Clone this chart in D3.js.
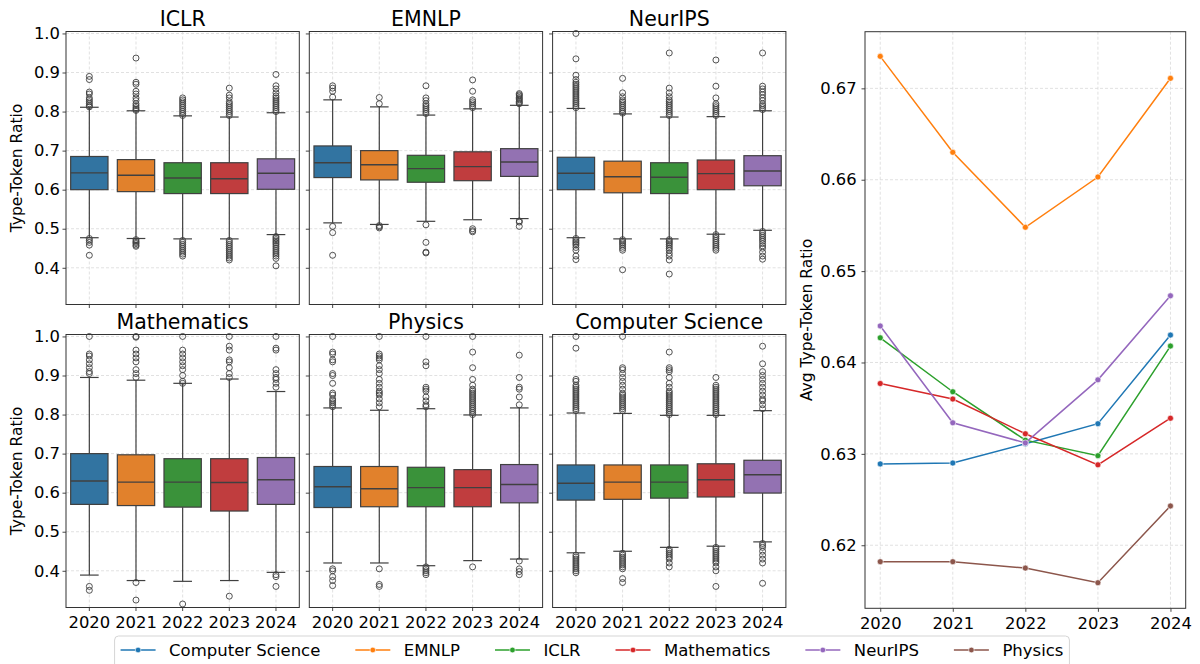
<!DOCTYPE html>
<html>
<head>
<meta charset="utf-8">
<script src="https://cdn.jsdelivr.net/npm/d3@7"></script>
<style>
body { margin: 0; background: #fff; }
svg, svg text { font-family: "DejaVu Sans", sans-serif; }
</style>
</head>
<body>
<svg id="chart" width="1200" height="664"></svg>
<script>
var years = ["2020", "2021", "2022", "2023", "2024"];
var boxColors = ["#3274a1", "#e1812c", "#3a923a", "#c03d3e", "#9372b2"];
var boxTicks = [0.4, 0.5, 0.6, 0.7, 0.8, 0.9, 1.0];

// one row per year: [lower whisker, q1, median, q3, upper whisker]
var iclrBox = [
    [0.477, 0.600, 0.643, 0.685, 0.811],
    [0.475, 0.595, 0.637, 0.677, 0.802],
    [0.474, 0.590, 0.630, 0.669, 0.789],
    [0.474, 0.590, 0.628, 0.669, 0.786],
    [0.485, 0.601, 0.642, 0.679, 0.797]
];
var iclrOut = [
    [0.812, 0.815, 0.82, 0.825, 0.83, 0.835, 0.845, 0.85, 0.882, 0.89, 0.475, 0.47, 0.465, 0.458, 0.432],
    [0.803, 0.806, 0.81, 0.815, 0.82, 0.828, 0.835, 0.845, 0.852, 0.87, 0.875, 0.937, 0.472, 0.468, 0.465, 0.462, 0.458, 0.455],
    [0.79, 0.795, 0.80, 0.805, 0.81, 0.815, 0.82, 0.825, 0.83, 0.835, 0.47, 0.465, 0.46, 0.455, 0.45, 0.445, 0.44, 0.435, 0.43],
    [0.79, 0.795, 0.80, 0.805, 0.81, 0.815, 0.82, 0.825, 0.835, 0.842, 0.86, 0.47, 0.465, 0.46, 0.455, 0.45, 0.445, 0.44, 0.435, 0.43, 0.425, 0.42],
    [0.80, 0.805, 0.81, 0.815, 0.82, 0.825, 0.83, 0.835, 0.84, 0.848, 0.858, 0.866, 0.895, 0.48, 0.476, 0.472, 0.468, 0.464, 0.46, 0.455, 0.45, 0.445, 0.44, 0.435, 0.43, 0.424, 0.405]
];

var emnlpBox = [
    [0.515, 0.631, 0.669, 0.712, 0.830],
    [0.511, 0.625, 0.664, 0.700, 0.812],
    [0.519, 0.619, 0.654, 0.688, 0.791],
    [0.523, 0.623, 0.659, 0.697, 0.807],
    [0.526, 0.634, 0.671, 0.705, 0.816]
];
var emnlpOut = [
    [0.837, 0.852, 0.860, 0.866, 0.506, 0.49, 0.432],
    [0.82, 0.836, 0.508, 0.505, 0.502],
    [0.795, 0.80, 0.805, 0.81, 0.815, 0.82, 0.828, 0.835, 0.866, 0.51, 0.465, 0.44, 0.438],
    [0.81, 0.815, 0.82, 0.825, 0.83, 0.852, 0.881, 0.50, 0.495, 0.492],
    [0.82, 0.823, 0.826, 0.83, 0.833, 0.836, 0.84, 0.843, 0.846, 0.52, 0.517, 0.506]
];

var neuripsBox = [
    [0.477, 0.600, 0.642, 0.683, 0.808],
    [0.474, 0.592, 0.633, 0.673, 0.794],
    [0.474, 0.590, 0.632, 0.669, 0.786],
    [0.486, 0.600, 0.641, 0.676, 0.787],
    [0.496, 0.610, 0.648, 0.687, 0.802]
];
var neuripsOut = [
    [0.81, 0.815, 0.82, 0.825, 0.83, 0.835, 0.84, 0.845, 0.85, 0.855, 0.86, 0.865, 0.87, 0.875, 0.882, 0.893, 0.935, 1.0, 0.475, 0.47, 0.466, 0.462, 0.458, 0.452, 0.445, 0.43, 0.421],
    [0.796, 0.80, 0.805, 0.81, 0.815, 0.82, 0.825, 0.83, 0.838, 0.848, 0.885, 0.472, 0.468, 0.464, 0.46, 0.455, 0.45, 0.445, 0.395],
    [0.79, 0.795, 0.80, 0.805, 0.81, 0.815, 0.82, 0.825, 0.83, 0.838, 0.848, 0.86, 0.95, 0.472, 0.468, 0.464, 0.46, 0.455, 0.45, 0.445, 0.437, 0.43, 0.42, 0.384],
    [0.79, 0.795, 0.80, 0.805, 0.81, 0.815, 0.82, 0.835, 0.865, 0.932, 0.485, 0.48, 0.475, 0.47, 0.465, 0.46, 0.455, 0.45, 0.445],
    [0.805, 0.81, 0.815, 0.82, 0.828, 0.835, 0.843, 0.85, 0.858, 0.865, 0.95, 0.493, 0.488, 0.483, 0.478, 0.473, 0.468, 0.462, 0.456, 0.45, 0.44, 0.43, 0.422]
];

var mathBox = [
    [0.389, 0.570, 0.630, 0.700, 0.895],
    [0.375, 0.567, 0.627, 0.697, 0.888],
    [0.373, 0.563, 0.627, 0.687, 0.880],
    [0.375, 0.553, 0.626, 0.687, 0.891],
    [0.396, 0.570, 0.633, 0.690, 0.859]
];
var mathOut = [
    [1.0, 0.955, 0.95, 0.94, 0.93, 0.92, 0.91, 0.905, 0.36, 0.35],
    [1.0, 0.998, 0.965, 0.955, 0.945, 0.935, 0.915, 0.905, 0.895, 0.37, 0.325],
    [1.0, 0.965, 0.955, 0.945, 0.935, 0.925, 0.915, 0.90, 0.885, 0.88, 0.315],
    [1.0, 0.975, 0.965, 0.94, 0.935, 0.92, 0.905, 0.895, 0.335],
    [1.0, 0.97, 0.965, 0.915, 0.905, 0.895, 0.89, 0.88, 0.87, 0.39, 0.385, 0.36]
];

var physicsBox = [
    [0.420, 0.562, 0.615, 0.667, 0.817],
    [0.420, 0.564, 0.610, 0.667, 0.811],
    [0.413, 0.564, 0.613, 0.665, 0.815],
    [0.426, 0.564, 0.613, 0.659, 0.799],
    [0.430, 0.574, 0.621, 0.672, 0.817]
];
var physicsOut = [
    [1.0, 0.96, 0.955, 0.94, 0.935, 0.905, 0.90, 0.88, 0.855, 0.85, 0.84, 0.835, 0.83, 0.825, 0.82, 0.405, 0.40, 0.385, 0.375, 0.362],
    [1.0, 0.955, 0.95, 0.945, 0.94, 0.925, 0.915, 0.905, 0.89, 0.88, 0.87, 0.86, 0.855, 0.85, 0.84, 0.83, 0.82, 0.405, 0.365, 0.36],
    [1.0, 0.935, 0.925, 0.87, 0.865, 0.86, 0.845, 0.835, 0.825, 0.82, 0.41, 0.405, 0.40, 0.395, 0.39],
    [1.0, 0.96, 0.92, 0.89, 0.875, 0.865, 0.86, 0.855, 0.85, 0.845, 0.84, 0.835, 0.83, 0.825, 0.82, 0.815, 0.81, 0.805, 0.80, 0.41],
    [0.952, 0.895, 0.87, 0.865, 0.845, 0.825, 0.425, 0.405, 0.398, 0.39]
];

var csBox = [
    [0.446, 0.581, 0.624, 0.671, 0.804],
    [0.450, 0.583, 0.627, 0.671, 0.803],
    [0.460, 0.586, 0.627, 0.671, 0.798],
    [0.463, 0.589, 0.633, 0.674, 0.798],
    [0.474, 0.599, 0.646, 0.683, 0.810]
];
var csOut = [
    [1.0, 0.97, 0.89, 0.885, 0.875, 0.87, 0.865, 0.86, 0.855, 0.85, 0.845, 0.84, 0.835, 0.83, 0.825, 0.82, 0.815, 0.81, 0.44, 0.435, 0.43, 0.425, 0.42, 0.415, 0.41, 0.405, 0.40, 0.395],
    [1.0, 0.92, 0.915, 0.905, 0.895, 0.885, 0.875, 0.865, 0.855, 0.85, 0.845, 0.84, 0.835, 0.83, 0.825, 0.82, 0.815, 0.81, 0.445, 0.44, 0.435, 0.43, 0.425, 0.42, 0.415, 0.41, 0.405, 0.38, 0.37],
    [0.96, 0.92, 0.915, 0.91, 0.895, 0.88, 0.87, 0.86, 0.855, 0.85, 0.845, 0.84, 0.835, 0.83, 0.825, 0.82, 0.815, 0.81, 0.805, 0.80, 0.455, 0.45, 0.445, 0.44, 0.435, 0.43, 0.42, 0.41],
    [0.895, 0.875, 0.87, 0.865, 0.86, 0.855, 0.85, 0.845, 0.84, 0.835, 0.83, 0.825, 0.82, 0.815, 0.81, 0.805, 0.80, 0.46, 0.455, 0.45, 0.445, 0.44, 0.435, 0.43, 0.425, 0.42, 0.41, 0.40, 0.36],
    [0.975, 0.93, 0.91, 0.90, 0.89, 0.88, 0.87, 0.86, 0.85, 0.84, 0.835, 0.825, 0.815, 0.47, 0.465, 0.46, 0.45, 0.44, 0.43, 0.42, 0.368]
];

// right panel: average type-token ratio per year
var lineNames = ["Computer Science", "EMNLP", "ICLR", "Mathematics", "NeurIPS", "Physics"];
var lineColors = ["#1f77b4", "#ff7f0e", "#2ca02c", "#d62728", "#9467bd", "#8c564b"];
var csAvg = [0.6289, 0.6290, 0.6311, 0.6333, 0.6430];
var emnlpAvg = [0.6735, 0.6630, 0.6548, 0.6603, 0.6711];
var iclrAvg = [0.6427, 0.6368, 0.6315, 0.6298, 0.6418];
var mathAvg = [0.6377, 0.6360, 0.6322, 0.6288, 0.6339];
var neuripsAvg = [0.6440, 0.6334, 0.6312, 0.6381, 0.6473];
var physicsAvg = [0.6182, 0.6182, 0.6175, 0.6159, 0.6243];
var lineTicks = [0.62, 0.63, 0.64, 0.65, 0.66, 0.67];

var svg = d3.select("#chart");
var edge = "#404040",
    spine = "#333",
    gridColor = "#d9d9d9";

function styleAxis(g, size) {
    g.attr("font-family", null).attr("font-size", null);
    g.select(".domain").remove();
    g.selectAll(".tick line").attr("stroke", spine).attr("stroke-width", 0.9);
    g.selectAll(".tick text").attr("fill", "#000")
        .style("font-family", "'DejaVu Sans', sans-serif")
        .style("font-size", size + "px");
}

function drawBoxPanel(x0, y0, w, h, title, stats, outliers, showY, showX) {
    /* One seaborn-like box plot panel, years on x. */
    var g = svg.append("g").attr("transform", "translate(" + x0 + "," + y0 + ")");
    var x = d3.scaleBand().domain(years).range([0, w]);
    var y = d3.scaleLinear().domain([0.306, 1.005]).range([h, 0]);
    var bw = x.bandwidth() * 0.8;

    // grid
    g.selectAll(".gy").data(boxTicks).enter().append("line")
        .attr("x1", 0).attr("x2", w)
        .attr("y1", function(d) { return y(d); }).attr("y2", function(d) { return y(d); })
        .attr("stroke", gridColor).attr("stroke-dasharray", "3,2").attr("stroke-width", 0.8);
    g.selectAll(".gx").data(years).enter().append("line")
        .attr("y1", 0).attr("y2", h)
        .attr("x1", function(d) { return x(d) + x.bandwidth() / 2; })
        .attr("x2", function(d) { return x(d) + x.bandwidth() / 2; })
        .attr("stroke", gridColor).attr("stroke-dasharray", "3,2").attr("stroke-width", 0.8);

    var boxes = g.selectAll(".box").data(stats).enter().append("g")
        .attr("transform", function(d, i) { return "translate(" + (x(years[i]) + x.bandwidth() / 2) + ",0)"; });

    boxes.append("line").attr("x1", 0).attr("x2", 0)
        .attr("y1", function(d) { return y(d[3]); }).attr("y2", function(d) { return y(d[4]); })
        .attr("stroke", edge).attr("stroke-width", 1.2);
    boxes.append("line").attr("x1", 0).attr("x2", 0)
        .attr("y1", function(d) { return y(d[1]); }).attr("y2", function(d) { return y(d[0]); })
        .attr("stroke", edge).attr("stroke-width", 1.2);
    boxes.append("line").attr("x1", -bw / 4).attr("x2", bw / 4)
        .attr("y1", function(d) { return y(d[4]); }).attr("y2", function(d) { return y(d[4]); })
        .attr("stroke", edge).attr("stroke-width", 1.2);
    boxes.append("line").attr("x1", -bw / 4).attr("x2", bw / 4)
        .attr("y1", function(d) { return y(d[0]); }).attr("y2", function(d) { return y(d[0]); })
        .attr("stroke", edge).attr("stroke-width", 1.2);
    boxes.append("rect")
        .attr("x", -bw / 2).attr("width", bw)
        .attr("y", function(d) { return y(d[3]); })
        .attr("height", function(d) { return y(d[1]) - y(d[3]); })
        .attr("fill", function(d, i) { return boxColors[i]; })
        .attr("stroke", edge).attr("stroke-width", 1.2);
    boxes.append("line").attr("x1", -bw / 2).attr("x2", bw / 2)
        .attr("y1", function(d) { return y(d[2]); }).attr("y2", function(d) { return y(d[2]); })
        .attr("stroke", edge).attr("stroke-width", 1.4);

    boxes.each(function(d, i) {
        d3.select(this).selectAll("circle").data(outliers[i]).enter().append("circle")
            .attr("cx", 0).attr("cy", function(v) { return y(v); }).attr("r", 3)
            .attr("fill", "none").attr("stroke", edge).attr("stroke-width", 0.9);
    });

    g.append("rect").attr("width", w).attr("height", h)
        .attr("fill", "none").attr("stroke", spine).attr("stroke-width", 1);

    var ay = g.append("g").call(d3.axisLeft(y).tickValues(boxTicks).tickSize(3.5).tickPadding(2.5)
        .tickFormat(showY ? d3.format(".1f") : function() { return ""; }));
    styleAxis(ay, 16.4);
    var ax = g.append("g").attr("transform", "translate(0," + h + ")")
        .call(d3.axisBottom(x).tickSize(3.5).tickPadding(5.4)
        .tickFormat(showX ? function(d) { return d; } : function() { return ""; }));
    styleAxis(ax, 16.4);

    g.append("text").attr("x", w / 2).attr("y", -6).attr("text-anchor", "middle")
        .style("font-size", "20.5px").text(title);
    if (showY) {
        g.append("text").attr("transform", "translate(-44," + (h / 2) + ") rotate(-90)")
            .attr("text-anchor", "middle").style("font-size", "15.5px").text("Type-Token Ratio");
    }
}

var cols = [66, 309.3, 552.6], panelW = 233.3;
drawBoxPanel(cols[0], 31.5, panelW, 273, "ICLR", iclrBox, iclrOut, true, false);
drawBoxPanel(cols[1], 31.5, panelW, 273, "EMNLP", emnlpBox, emnlpOut, false, false);
drawBoxPanel(cols[2], 31.5, panelW, 273, "NeurIPS", neuripsBox, neuripsOut, false, false);
drawBoxPanel(cols[0], 334.5, panelW, 273, "Mathematics", mathBox, mathOut, true, true);
drawBoxPanel(cols[1], 334.5, panelW, 273, "Physics", physicsBox, physicsOut, false, true);
drawBoxPanel(cols[2], 334.5, panelW, 273, "Computer Science", csBox, csOut, false, true);

function drawLinePanel(x0, y0, w, h) {
    /* Average ratio per year, one line per venue. */
    var series = [csAvg, emnlpAvg, iclrAvg, mathAvg, neuripsAvg, physicsAvg];
    var g = svg.append("g").attr("transform", "translate(" + x0 + "," + y0 + ")");
    var x = d3.scaleLinear().domain([2019.79, 2024.21]).range([0, w]);
    var y = d3.scaleLinear().domain([0.6131, 0.6762]).range([h, 0]);
    var yearNums = years.map(Number);

    g.selectAll(".gy").data(lineTicks).enter().append("line")
        .attr("x1", 0).attr("x2", w)
        .attr("y1", function(d) { return y(d); }).attr("y2", function(d) { return y(d); })
        .attr("stroke", gridColor).attr("stroke-dasharray", "3,2").attr("stroke-width", 0.8);
    g.selectAll(".gx").data(yearNums).enter().append("line")
        .attr("y1", 0).attr("y2", h)
        .attr("x1", function(d) { return x(d); }).attr("x2", function(d) { return x(d); })
        .attr("stroke", gridColor).attr("stroke-dasharray", "3,2").attr("stroke-width", 0.8);

    var line = d3.line()
        .x(function(d, i) { return x(yearNums[i]); })
        .y(function(d) { return y(d); });

    series.forEach(function(vals, k) {
        g.append("path").datum(vals).attr("d", line)
            .attr("fill", "none").attr("stroke", lineColors[k]).attr("stroke-width", 1.5);
        g.selectAll(".pt" + k).data(vals).enter().append("circle")
            .attr("cx", function(d, i) { return x(yearNums[i]); })
            .attr("cy", function(d) { return y(d); })
            .attr("r", 3).attr("fill", lineColors[k])
            .attr("stroke", "#fff").attr("stroke-width", 0.6);
    });

    g.append("rect").attr("width", w).attr("height", h)
        .attr("fill", "none").attr("stroke", spine).attr("stroke-width", 1);

    var ay = g.append("g").call(d3.axisLeft(y).tickValues(lineTicks).tickSize(3.5).tickPadding(4.8)
        .tickFormat(d3.format(".2f")));
    styleAxis(ay, 16.4);
    var ax = g.append("g").attr("transform", "translate(0," + h + ")")
        .call(d3.axisBottom(x).tickValues(yearNums).tickSize(3.5).tickPadding(5.4)
        .tickFormat(d3.format("d")));
    styleAxis(ax, 16.4);

    g.append("text").attr("transform", "translate(-53," + (h / 2) + ") rotate(-90)")
        .attr("text-anchor", "middle").style("font-size", "15.5px").text("Avg Type-Token Ratio");
}

drawLinePanel(865, 31.7, 320.7, 576.6);

function drawLegend(cx, top) {
    /* Single-row legend under the panels. */
    var fs = 16.5, handle = 35, gap = 13.5, colGap = 35, pad = 6;
    var g = svg.append("g");
    var frame = g.append("rect");
    var xPos = pad, items = [];
    lineNames.forEach(function(name, k) {
        var it = g.append("g");
        it.append("line").attr("x1", 0).attr("x2", handle).attr("y1", 14).attr("y2", 14)
            .attr("stroke", lineColors[k]).attr("stroke-width", 1.5);
        it.append("circle").attr("cx", handle / 2).attr("cy", 14).attr("r", 2.8)
            .attr("fill", lineColors[k]).attr("stroke", "#fff").attr("stroke-width", 0.6);
        var t = it.append("text").attr("x", handle + gap).attr("y", 19.5)
            .style("font-size", fs + "px").text(name);
        items.push({ g: it, x: xPos });
        xPos += handle + gap + t.node().getComputedTextLength() + colGap;
    });
    var total = xPos - colGap + pad;
    var left = cx - total / 2;
    items.forEach(function(d) {
        d.g.attr("transform", "translate(" + (left + d.x) + "," + top + ")");
    });
    frame.attr("x", left).attr("y", top).attr("width", total).attr("height", 40)
        .attr("rx", 4).attr("fill", "#fff").attr("stroke", "#d5d5d5").attr("stroke-width", 1);
}

drawLegend(592, 636);
</script>
</body>
</html>
